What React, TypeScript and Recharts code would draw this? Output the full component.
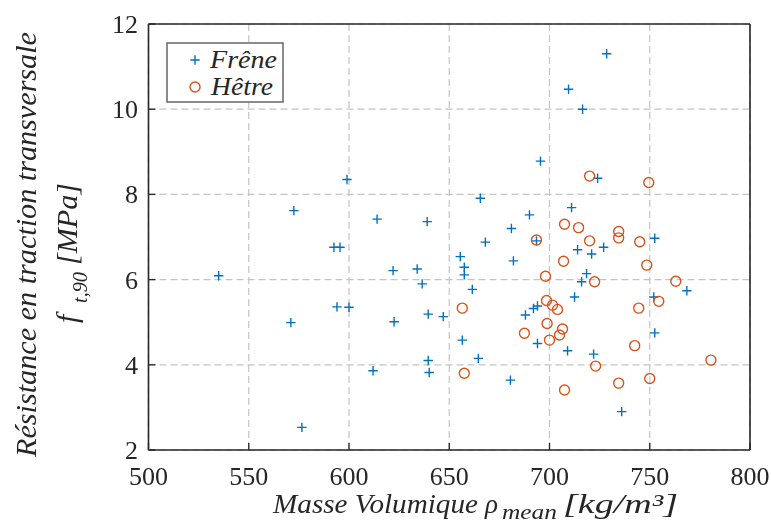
import { ScatterChart, Scatter, XAxis, YAxis, CartesianGrid } from "recharts";

// Frêne (ash) samples: density [kg/m3] / tensile strength perpendicular [MPa]
const freneDensity = [
  599, 572.5, 614, 639, 535, 592.5, 595.5, 622, 634, 636.5, 571, 594, 600, 622.5, 639.5, 647, 612,
  639.5, 640, 576.5, 728.5, 709.5, 716.5, 695.5, 724, 665.5, 711, 690, 681, 752.5, 668, 693.5, 655.5,
  657.5, 657.5, 661.5, 682, 714, 721, 727, 718.5, 716, 712.5, 752, 768.5, 688, 692, 694, 656.5, 664.5,
  694, 709, 722, 752.5, 680.5, 736,
];
const freneStrength = [
  8.35, 7.62, 7.42, 7.36, 6.09, 6.76, 6.76, 6.21, 6.25, 5.9, 4.99, 5.36, 5.35, 5.01, 5.19, 5.13, 3.86,
  4.1, 3.82, 2.53, 11.3, 10.47, 10.0, 8.78, 8.38, 7.91, 7.69, 7.52, 7.2, 6.97, 6.88, 6.91, 6.54, 6.29,
  6.11, 5.77, 6.44, 6.7, 6.6, 6.76, 6.14, 5.95, 5.59, 5.59, 5.74, 5.17, 5.32, 5.38, 4.58, 4.15, 4.5,
  4.33, 4.25, 4.75, 3.64, 2.9,
];

// Hêtre (beech) samples
const hetreDensity = [
  720, 749.5, 707.5, 714.5, 734.5, 734.5, 693.5, 720, 745, 707, 748.5, 698, 722.5, 763, 754.5, 698.5,
  701.5, 704, 656.5, 744.5, 698.8, 706.5, 705, 687.5, 700, 742.5, 780.5, 723, 657.5, 750, 734.5, 707.5,
];
const hetreStrength = [
  8.43, 8.28, 7.3, 7.22, 7.13, 6.98, 6.93, 6.91, 6.89, 6.43, 6.34, 6.08, 5.95, 5.96, 5.49, 5.51, 5.4,
  5.3, 5.33, 5.33, 4.97, 4.84, 4.7, 4.74, 4.58, 4.45, 4.11, 3.97, 3.8, 3.68, 3.57, 3.41,
];

const densityTicks = [500, 550, 600, 650, 700, 750, 800];
const strengthTicks = [2, 4, 6, 8, 10, 12];

const frene = freneDensity.map((x, i) => ({ x, y: freneStrength[i] }));
const hetre = hetreDensity.map((x, i) => ({ x, y: hetreStrength[i] }));

const BLUE = "#0072BD";
const RED = "#D95319";
const INK = "#262626";
const GRID = "#c4c4c4";
const FONT = "Liberation Serif";

function plusMark(props: any) {
  const { cx, cy } = props;
  return (
    <path
      d={`M${cx - 4.7},${cy}H${cx + 4.7}M${cx},${cy - 4.7}V${cy + 4.7}`}
      stroke={BLUE}
      strokeWidth={1.4}
      fill="none"
    />
  );
}

function circleMark(props: any) {
  const { cx, cy } = props;
  return <circle cx={cx} cy={cy} r={5} stroke={RED} strokeWidth={1.4} fill="none" />;
}

function xTick(props: any) {
  const { x, y, payload } = props;
  return (
    <text x={x} y={y + 35} textAnchor="middle" fontFamily={FONT} fontSize={26} fill={INK}>
      {payload.value}
    </text>
  );
}

function yTick(props: any) {
  const { x, y, payload } = props;
  return (
    <text x={x - 10.5} y={y + 9} textAnchor="end" fontFamily={FONT} fontSize={26} fill={INK}>
      {payload.value}
    </text>
  );
}

function XTitle() {
  return (
    <g fill={INK} fontFamily={FONT} fontStyle="italic">
      <text x={273} y={513} fontSize={27} textLength={205} lengthAdjust="spacingAndGlyphs">
        Masse Volumique
      </text>
      <text x={485} y={513} fontSize={27}>
        ρ
      </text>
      <text x={502} y={519} fontSize={22} textLength={55} lengthAdjust="spacingAndGlyphs">
        mean
      </text>
      <text x={563} y={513} fontSize={27} textLength={115} lengthAdjust="spacingAndGlyphs">
        [kg/m³]
      </text>
    </g>
  );
}

function YTitle() {
  return (
    <g transform="rotate(-90)" fill={INK} fontFamily={FONT} fontStyle="italic">
      <text x={-457} y={36} fontSize={30} textLength={425} lengthAdjust="spacingAndGlyphs">
        Résistance en traction transversale
      </text>
      <text x={-323} y={77} fontSize={30}>
        f
      </text>
      <text x={-303} y={87} fontSize={20} textLength={31} lengthAdjust="spacingAndGlyphs">
        t,90
      </text>
      <text x={-265} y={77} fontSize={30} textLength={82} lengthAdjust="spacingAndGlyphs">
        [MPa]
      </text>
    </g>
  );
}

// legend box drawn in the chart svg, top-left of the plot
function LegendBox() {
  return (
    <g>
      <rect x={167} y={43} width={116} height={59} fill="#fff" stroke="#666" strokeWidth={1.5} />
      {plusMark({ cx: 195, cy: 60 })}
      {circleMark({ cx: 195, cy: 87 })}
      <g fill={INK} fontFamily={FONT} fontStyle="italic" fontSize={26}>
        <text x={210} y={68} textLength={67} lengthAdjust="spacingAndGlyphs">
          Frêne
        </text>
        <text x={211} y={95} textLength={62} lengthAdjust="spacingAndGlyphs">
          Hêtre
        </text>
      </g>
    </g>
  );
}

export default function App() {
  return (
    <div style={{ position: "fixed", left: 0, top: 0, width: 771, height: 523 }}>
      <ScatterChart width={771} height={523} margin={{ top: 23, right: 20, bottom: 33, left: 88.5 }}>
        <CartesianGrid stroke={GRID} strokeWidth={1.2} strokeDasharray="7 4" />
        <XAxis
          type="number"
          dataKey="x"
          domain={[500, 800]}
          ticks={densityTicks}
          allowDataOverflow
          height={40}
          tickSize={-7}
          tickMargin={7}
          tick={xTick}
          tickLine={{ stroke: INK, strokeWidth: 1.3 }}
          axisLine={{ stroke: INK, strokeWidth: 1.6 }}
          label={<XTitle />}
        />
        <YAxis
          type="number"
          dataKey="y"
          domain={[2, 12]}
          ticks={strengthTicks}
          allowDataOverflow
          width={60}
          tickSize={-7}
          tickMargin={7}
          tick={yTick}
          tickLine={{ stroke: INK, strokeWidth: 1.3 }}
          axisLine={{ stroke: INK, strokeWidth: 1.6 }}
          label={<YTitle />}
        />
        <XAxis
          xAxisId="top"
          orientation="top"
          type="number"
          domain={[500, 800]}
          ticks={densityTicks}
          allowDataOverflow
          height={1}
          tickSize={-7}
          tick={false}
          tickLine={{ stroke: INK, strokeWidth: 1.3 }}
          axisLine={{ stroke: INK, strokeWidth: 1.6 }}
          label={<LegendBox />}
        />
        <YAxis
          yAxisId="right"
          orientation="right"
          type="number"
          domain={[2, 12]}
          ticks={strengthTicks}
          allowDataOverflow
          width={1}
          tickSize={-7}
          tick={false}
          tickLine={{ stroke: INK, strokeWidth: 1.3 }}
          axisLine={{ stroke: INK, strokeWidth: 1.6 }}
        />
        <Scatter name="Frêne" data={frene} shape={plusMark} isAnimationActive={false} />
        <Scatter name="Hêtre" data={hetre} shape={circleMark} isAnimationActive={false} />
      </ScatterChart>
    </div>
  );
}
